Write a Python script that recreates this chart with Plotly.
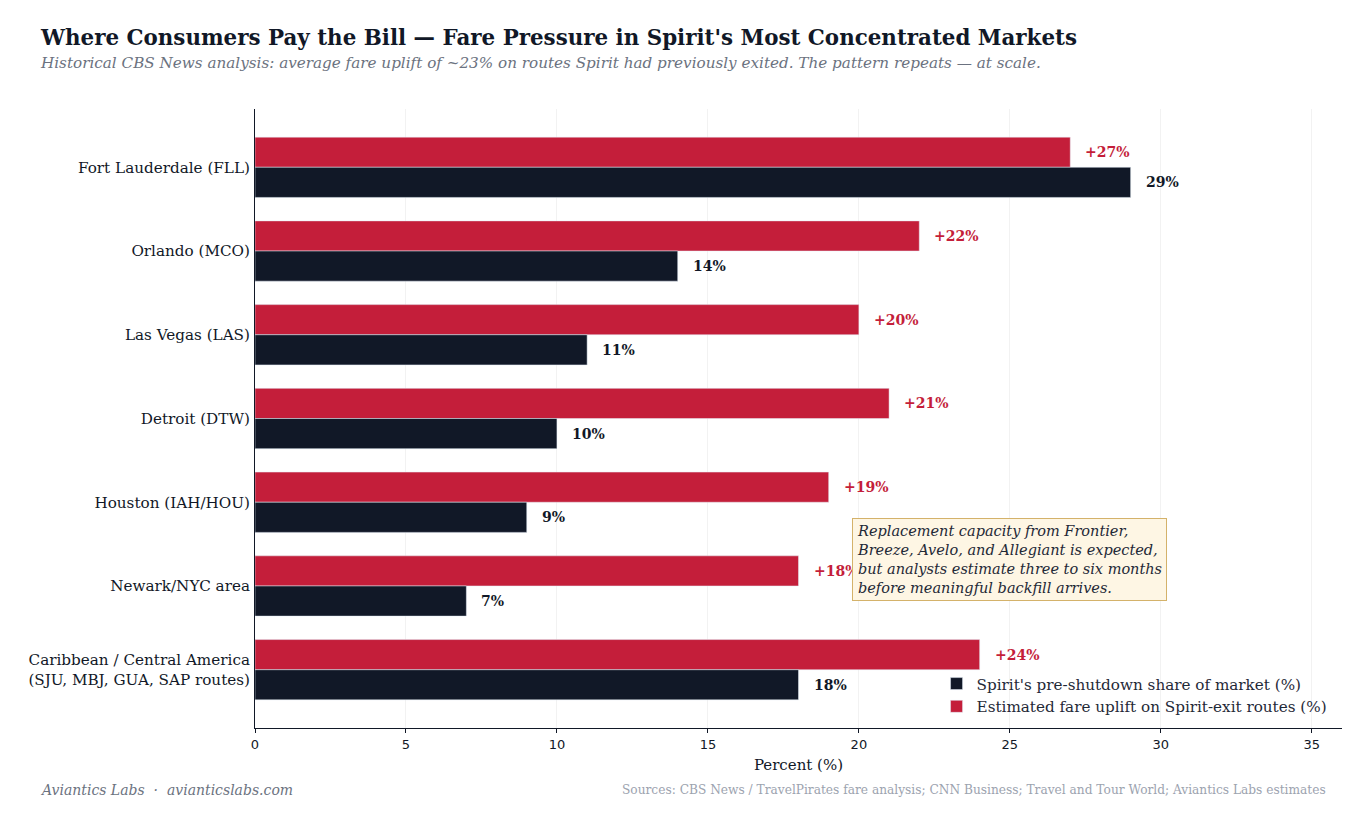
import plotly.graph_objects as go

markets = ["Fort Lauderdale (FLL)", "Orlando (MCO)", "Las Vegas (LAS)", "Detroit (DTW)",
           "Houston (IAH/HOU)", "Newark/NYC area",
           "Caribbean / Central America<br>(SJU, MBJ, GUA, SAP routes)"]
share = [29, 14, 11, 10, 9, 7, 18]
uplift = [27, 22, 20, 21, 19, 18, 24]

DARK = "#111827"
RED = "#C41E3A"
SERIF = "DejaVu Serif"

fig = go.Figure()
fig.add_trace(go.Bar(y=markets, x=uplift, orientation="h", marker_color=RED,
                     name="Estimated fare uplift on Spirit-exit routes (%)", legendrank=2))
fig.add_trace(go.Bar(y=markets, x=share, orientation="h", marker_color=DARK,
                     name="Spirit's pre-shutdown share of market (%)", legendrank=1))

# value labels
for i, (s, u) in enumerate(zip(share, uplift)):
    fig.add_annotation(x=u, y=i - 0.18, text="<b>+%d%%</b>" % u, showarrow=False,
                       xanchor="left", xshift=13, font=dict(family=SERIF, size=14, color=RED))
    fig.add_annotation(x=s, y=i + 0.18, text="<b>%d%%</b>" % s, showarrow=False,
                       xanchor="left", xshift=13, font=dict(family=SERIF, size=14, color=DARK))

fig.add_annotation(xref="paper", yref="paper", x=0.549, y=0.339, xanchor="left", yanchor="top",
                   text="<i>Replacement capacity from Frontier,<br>Breeze, Avelo, and Allegiant is expected,<br>"
                        "but analysts estimate three to six months<br>before meaningful backfill arrives.</i>",
                   showarrow=False, align="left", bgcolor="#FEF6E4", bordercolor="#D4B26A",
                   borderwidth=1, borderpad=4, font=dict(family=SERIF, size=14.5, color="#1f2937"))

# title, subtitle, footers
fig.add_annotation(xref="paper", yref="paper", x=-0.1998, y=1.115, xanchor="left", yanchor="middle",
                   text="<b>Where Consumers Pay the Bill — Fare Pressure in Spirit's Most Concentrated Markets</b>",
                   showarrow=False, font=dict(family=SERIF, size=21.4, color=DARK))
fig.add_annotation(xref="paper", yref="paper", x=-0.1998, y=1.074, xanchor="left", yanchor="middle",
                   text="<i>Historical CBS News analysis: average fare uplift of ~23% on routes Spirit had previously exited. "
                        "The pattern repeats — at scale.</i>",
                   showarrow=False, font=dict(family=SERIF, size=15.2, color="#6b7280"))
fig.add_annotation(xref="paper", yref="paper", x=-0.1998, y=-0.1, xanchor="left", yanchor="middle",
                   text="<i>Aviantics Labs  ·  avianticslabs.com</i>", showarrow=False,
                   font=dict(family=SERIF, size=14, color="#6b7280"))
fig.add_annotation(xref="paper", yref="paper", x=0.987, y=-0.1, xanchor="right", yanchor="middle",
                   text="Sources: CBS News / TravelPirates fare analysis; CNN Business; Travel and Tour World; Aviantics Labs estimates",
                   showarrow=False, font=dict(family=SERIF, size=12.2, color="#9ca3af"))

fig.update_layout(
    width=1361, height=816, barmode="group", bargap=0.28, bargroupgap=0,
    plot_bgcolor="white", paper_bgcolor="white",
    margin=dict(l=247, r=27, t=101, b=96),
    font=dict(family=SERIF, size=15, color=DARK),
    showlegend=True,
    legend=dict(x=0.627, y=0.053, xanchor="left", yanchor="middle", bgcolor="rgba(255,255,255,0)",
                font=dict(family=SERIF, size=15.2, color="#1f2937"), tracegroupgap=0),
    xaxis=dict(range=[0, 36], dtick=5, showgrid=True, gridcolor="#f2f2f2", zeroline=False,
               showline=True, linecolor=DARK, linewidth=1, ticks="outside", ticklen=4, tickcolor=DARK,
               tickfont=dict(family="DejaVu Sans", size=13, color=DARK),
               title=dict(text="Percent (%)", font=dict(family=SERIF, size=15, color=DARK), standoff=8)),
    yaxis=dict(range=[6.696, -0.696], showgrid=False, showline=True, linecolor=DARK, linewidth=1,
               ticks="", tickfont=dict(family=SERIF, size=15.2, color=DARK), ticklabelstandoff=1),
)

fig.write_html("out.html")
